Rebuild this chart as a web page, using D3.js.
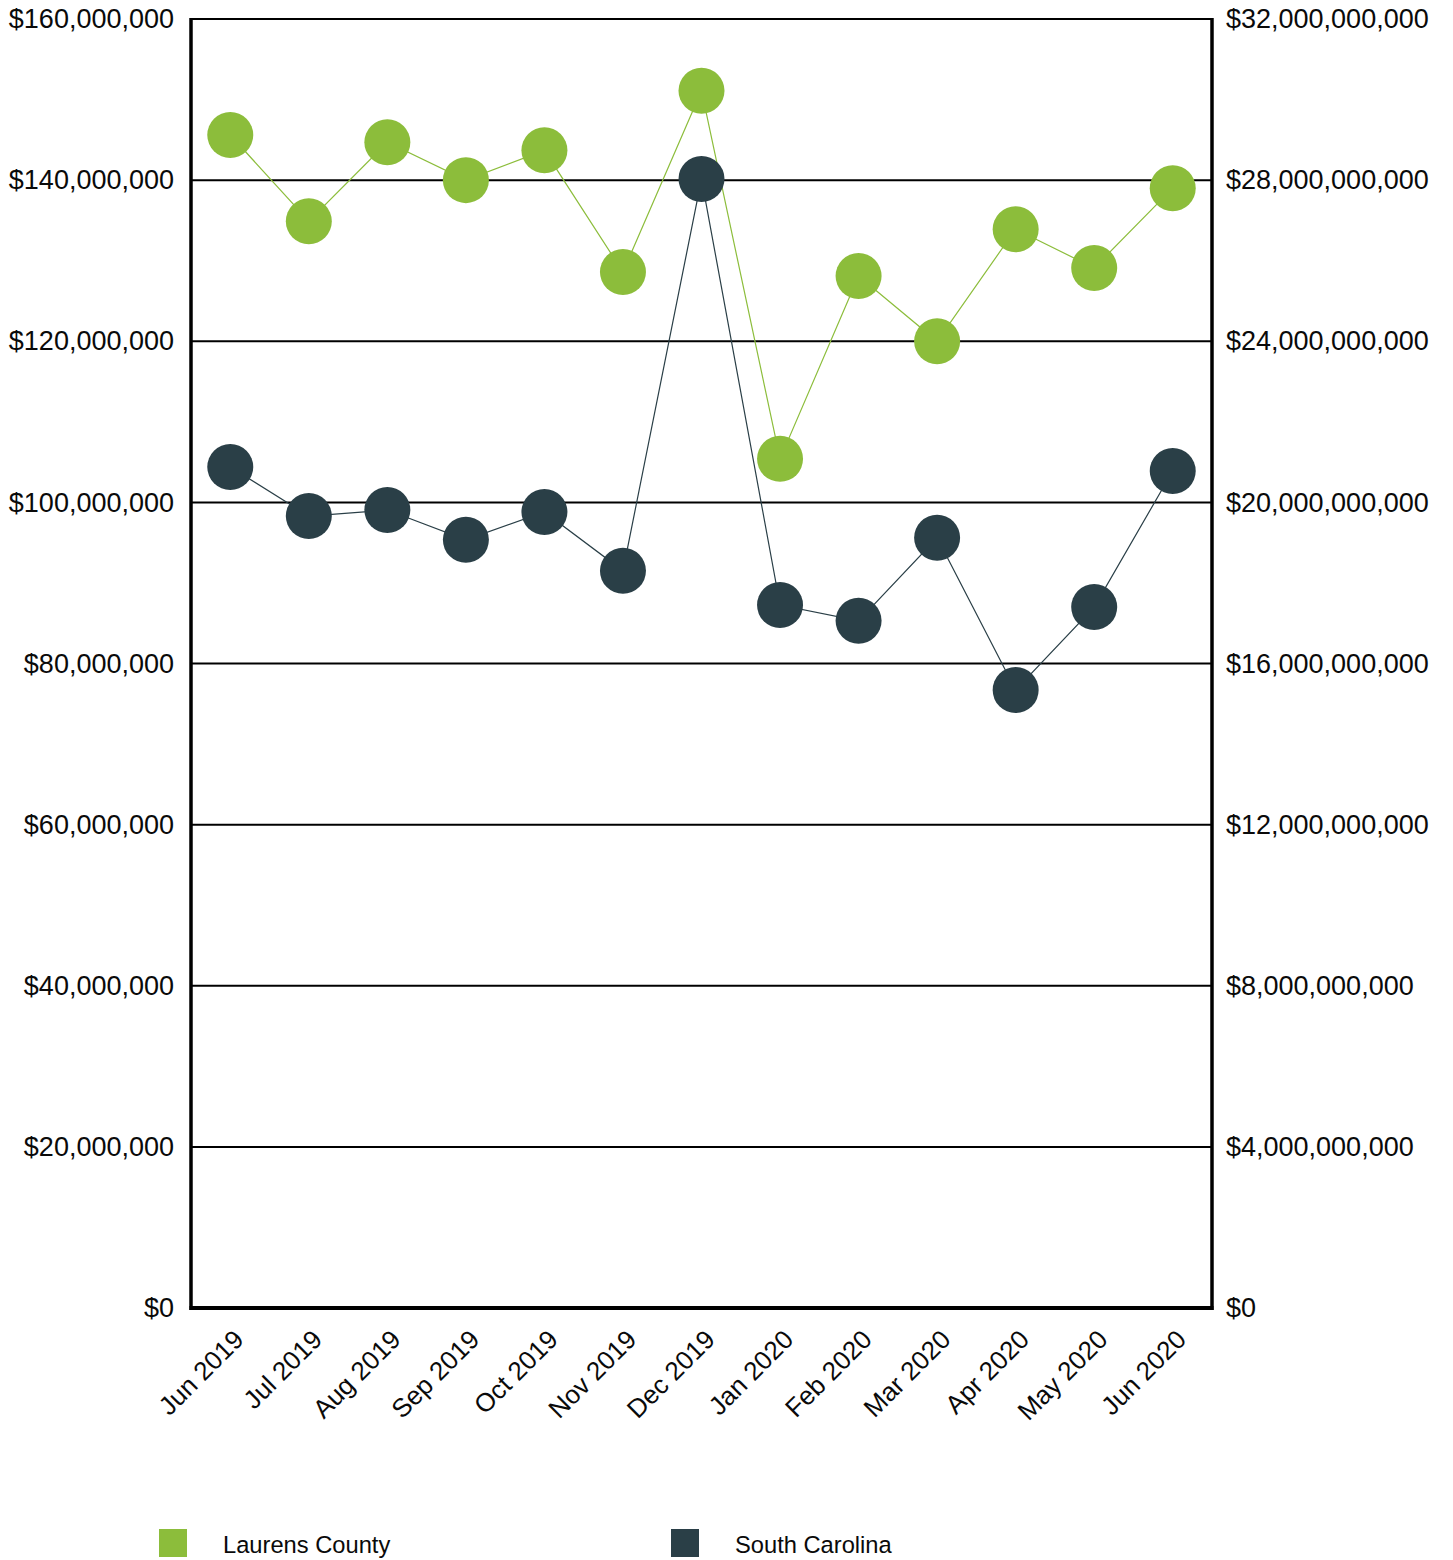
<!DOCTYPE html>
<html>
<head>
<meta charset="utf-8">
<script src="https://cdn.jsdelivr.net/npm/d3@7"></script>
<style>
  html, body { margin: 0; padding: 0; background: #fff; }
  text { font-family: "Liberation Sans", Arial, sans-serif; fill: #0a0a0a; }
</style>
</head>
<body>
<div id="chart"></div>
<script>
// months on the x axis
const months = ["Jun 2019","Jul 2019","Aug 2019","Sep 2019","Oct 2019","Nov 2019","Dec 2019",
                "Jan 2020","Feb 2020","Mar 2020","Apr 2020","May 2020","Jun 2020"];

// Laurens County (left axis)
const laurens = [145.6e6, 134.9e6, 144.7e6, 140.0e6, 143.7e6, 128.6e6, 151.1e6,
                 105.4e6, 128.1e6, 120.0e6, 133.9e6, 129.1e6, 139.0e6];

// South Carolina (right axis)
const southCarolina = [20.88e9, 19.66e9, 19.81e9, 19.07e9, 19.76e9, 18.30e9, 28.03e9,
                       17.45e9, 17.06e9, 19.12e9, 15.34e9, 17.40e9, 20.78e9];

const leftTicks = [0, 20e6, 40e6, 60e6, 80e6, 100e6, 120e6, 140e6, 160e6];
const rightTicks = [0, 4e9, 8e9, 12e9, 16e9, 20e9, 24e9, 28e9, 32e9];

const seriesNames = ["Laurens County", "South Carolina"];
const colors = ["#8cbd3b", "#2a3f47"];

// layout
const W = 1453, H = 1560;
const m = { left: 191, right: 1212, top: 19, bottom: 1308 };

const svg = d3.select("#chart").append("svg")
  .attr("width", W)
  .attr("height", H);

const x = d3.scaleBand().domain(months).range([m.left, m.right]).padding(0);
const yL = d3.scaleLinear().domain([0, 160e6]).range([m.bottom, m.top]);
const yR = d3.scaleLinear().domain([0, 32e9]).range([m.bottom, m.top]);
const fmt = d3.format("$,");

// gridlines
svg.append("g")
  .selectAll("line")
  .data(leftTicks)
  .join("line")
    .attr("x1", m.left).attr("x2", m.right)
    .attr("y1", d => yL(d)).attr("y2", d => yL(d))
    .attr("stroke", "#000")
    .attr("stroke-width", 2);

// left axis
const gL = svg.append("g")
  .attr("transform", `translate(${m.left},0)`)
  .call(d3.axisLeft(yL).tickValues(leftTicks).tickFormat(fmt).tickSize(0).tickPadding(17));
gL.select(".domain").remove();
gL.selectAll("text").style("font-size", "27px").attr("font-family", null);

// right axis
const gR = svg.append("g")
  .attr("transform", `translate(${m.right},0)`)
  .call(d3.axisRight(yR).tickValues(rightTicks).tickFormat(fmt).tickSize(0).tickPadding(14));
gR.select(".domain").remove();
gR.selectAll("text").style("font-size", "27px").attr("font-family", null);

// bottom axis
const gB = svg.append("g")
  .attr("transform", `translate(0,${m.bottom})`)
  .call(d3.axisBottom(x).tickSize(0));
gB.select(".domain").remove();
gB.selectAll("text")
  .attr("font-family", null)
  .style("font-size", "26px")
  .attr("x", 0).attr("y", 0).attr("dy", 0)
  .attr("text-anchor", "end")
  .attr("transform", "translate(15,33) rotate(-45)");

// frame
svg.append("line").attr("x1", m.left).attr("x2", m.left).attr("y1", m.top - 1).attr("y2", m.bottom + 2)
  .attr("stroke", "#000").attr("stroke-width", 3.5);
svg.append("line").attr("x1", m.right).attr("x2", m.right).attr("y1", m.top - 1).attr("y2", m.bottom + 2)
  .attr("stroke", "#000").attr("stroke-width", 3.5);
svg.append("line").attr("x1", m.left - 1.5).attr("x2", m.right + 1.5).attr("y1", m.bottom).attr("y2", m.bottom)
  .attr("stroke", "#000").attr("stroke-width", 4);

// series
const cx = d => x(d) + x.bandwidth() / 2;
const series = [
  { name: seriesNames[0], values: laurens, y: yL, color: colors[0] },
  { name: seriesNames[1], values: southCarolina, y: yR, color: colors[1] }
];

series.forEach(s => {
  const pts = months.map((mo, i) => [cx(mo), s.y(s.values[i])]);
  svg.append("path")
    .attr("d", d3.line()(pts))
    .attr("fill", "none")
    .attr("stroke", s.color)
    .attr("stroke-width", 1.2);
  svg.append("g")
    .selectAll("circle")
    .data(pts)
    .join("circle")
      .attr("cx", d => d[0])
      .attr("cy", d => d[1])
      .attr("r", 23)
      .attr("fill", s.color);
});

// legend
const legendX = [159, 671];
const lg = svg.append("g")
  .selectAll("g")
  .data(series)
  .join("g")
    .attr("transform", (d, i) => `translate(${legendX[i]},1529)`);
lg.append("rect").attr("width", 28).attr("height", 28).attr("fill", d => d.color);
lg.append("text")
  .attr("x", 64).attr("y", 24)
  .style("font-size", "23.7px")
  .text(d => d.name);
</script>
</body>
</html>
